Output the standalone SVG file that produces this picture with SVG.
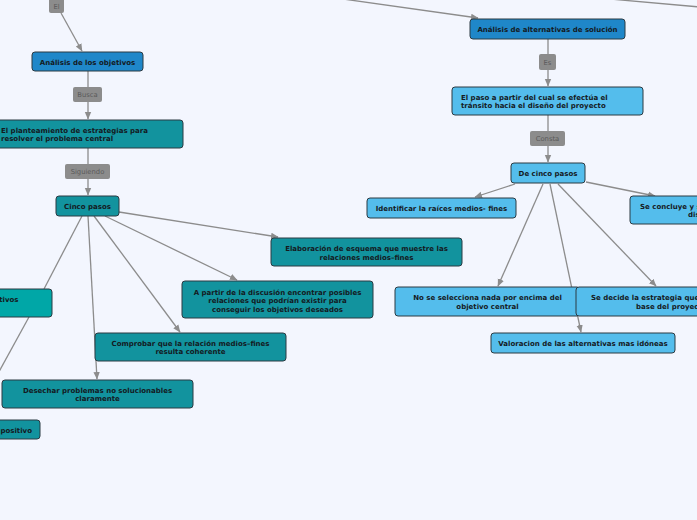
<svg xmlns="http://www.w3.org/2000/svg" width="697" height="520" viewBox="0 0 697 520">
<defs>
<marker id="ah" markerUnits="userSpaceOnUse" markerWidth="8" markerHeight="8" viewBox="0 0 8 8" refX="7" refY="4" orient="auto">
<path d="M0,0.8 L7.5,4 L0,7.2 Z" fill="#8c8c8c"/>
</marker>
<style>
.bg{fill:#f3f6fe}
.c{stroke:#8c8c8c;stroke-width:1.3;fill:none}
.a{marker-end:url(#ah)}
.n rect{stroke:#2b3a42;stroke-width:1}
.blue{fill:#1f87c9}
.teal{fill:#12939e}
.brt{fill:#00a7a7}
.lb{fill:#54bdec}
.lab rect{fill:#8c8c8c;stroke:none}
.lab text{font-family:"DejaVu Sans",Verdana,sans-serif;font-size:6.8px;fill:#5a5a5a;text-anchor:middle}
.n text{font-family:"DejaVu Sans",Verdana,sans-serif;font-size:7px;font-weight:bold;fill:#141a1e;text-anchor:middle}
.n text.s{text-anchor:start}
.n text.e{text-anchor:end}
</style>
</defs>
<rect class="bg" x="0" y="0" width="697" height="520"/>
<g id="connectors">
<line class="c a" x1="61" y1="13" x2="82" y2="51"/>
<line class="c" x1="88" y1="71" x2="88" y2="87"/>
<line class="c a" x1="88" y1="102" x2="88" y2="119"/>
<line class="c" x1="88" y1="148" x2="88" y2="164"/>
<line class="c a" x1="88" y1="179" x2="88" y2="195"/>
<line class="c a" x1="119" y1="212" x2="278" y2="237"/>
<line class="c a" x1="105" y1="216" x2="237" y2="280"/>
<line class="c a" x1="94" y1="216" x2="180" y2="332"/>
<line class="c a" x1="88" y1="216" x2="97" y2="379"/>
<line class="c" x1="82" y1="216" x2="44" y2="289"/>
<line class="c" x1="29" y1="317" x2="-5" y2="379"/>
<line class="c a" x1="343" y1="-1" x2="478" y2="18"/>
<line class="c" x1="610" y1="-1" x2="700" y2="7"/>
<line class="c" x1="548" y1="39" x2="548" y2="54"/>
<line class="c a" x1="548" y1="70" x2="548" y2="86"/>
<line class="c" x1="548" y1="115" x2="548" y2="131"/>
<line class="c a" x1="548" y1="146" x2="548" y2="162"/>
<line class="c a" x1="515" y1="184" x2="475" y2="197"/>
<line class="c a" x1="586" y1="182" x2="655" y2="196"/>
<line class="c a" x1="543" y1="184" x2="498" y2="286"/>
<line class="c a" x1="550" y1="184" x2="581" y2="332"/>
<line class="c a" x1="558" y1="184" x2="656" y2="286"/>
</g>
<g id="lbl-el" class="lab"><rect x="49" y="-3" width="15" height="16" rx="2"/><text x="56.5" y="8.5">El</text></g>
<g id="lbl-busca" class="lab"><rect x="73" y="87" width="29" height="15" rx="2"/><text x="87.5" y="97">Busca</text></g>
<g id="lbl-siguiendo" class="lab"><rect x="65" y="164" width="45" height="15" rx="2"/><text x="87.5" y="174">Siguiendo</text></g>
<g id="lbl-es" class="lab"><rect x="539" y="54" width="17" height="16" rx="2"/><text x="547.5" y="64.7">Es</text></g>
<g id="lbl-consta" class="lab"><rect x="530" y="131" width="35" height="15" rx="2"/><text x="547.5" y="141">Consta</text></g>

<g id="n-analisis-obj" class="n"><rect class="blue" x="32" y="52" width="111" height="19" rx="3"/><text x="87.5" y="64.5">Análisis de los objetivos</text></g>
<g id="n-planteamiento" class="n"><rect class="teal" x="-7" y="120" width="190" height="28" rx="3"/><text class="s" x="1" y="133">El planteamiento de estrategias para</text><text class="s" x="1" y="141">resolver el problema central</text></g>
<g id="n-cinco" class="n"><rect class="teal" x="56" y="196" width="63" height="20" rx="3"/><text x="87.5" y="208.8">Cinco pasos</text></g>
<g id="n-elaboracion" class="n"><rect class="teal" x="271" y="238" width="191" height="28" rx="3"/><text x="366.5" y="250.5">Elaboración de esquema que muestre las</text><text x="366.5" y="259.5">relaciones medios–fines</text></g>
<g id="n-apartir" class="n"><rect class="teal" x="182" y="281" width="191" height="37" rx="3"/><text x="277.5" y="294.5">A partir de la discusión encontrar posibles</text><text x="277.5" y="303">relaciones que podrían existir para</text><text x="277.5" y="311.5">conseguir los objetivos deseados</text></g>
<g id="n-comprobar" class="n"><rect class="teal" x="95" y="333" width="191" height="28" rx="3"/><text x="190.5" y="346">Comprobar que la relación medios–fines</text><text x="190.5" y="354">resulta coherente</text></g>
<g id="n-desechar" class="n"><rect class="teal" x="2" y="380" width="191" height="28" rx="3"/><text x="97.5" y="393">Desechar problemas no solucionables</text><text x="97.5" y="401">claramente</text></g>
<g id="n-tivos" class="n"><rect class="brt" x="-60" y="289" width="112" height="28" rx="3"/><text class="e" x="18.5" y="302">tivos</text></g>
<g id="n-positivo" class="n"><rect class="teal" x="-60" y="420" width="100" height="19" rx="3"/><text class="e" x="32" y="433">positivo</text></g>

<g id="n-analisis-alt" class="n"><rect class="blue" x="470" y="19" width="155" height="20" rx="3"/><text x="547.5" y="31.5">Análisis de alternativas de solución</text></g>
<g id="n-elpaso" class="n"><rect class="lb" x="452" y="87" width="191" height="28" rx="3"/><text class="s" x="461" y="100">El paso a partir del cual se efectúa el</text><text class="s" x="461" y="108">tránsito hacia el diseño del proyecto</text></g>
<g id="n-decinco" class="n"><rect class="lb" x="511" y="163" width="74" height="20" rx="3"/><text x="548" y="175.8">De cinco pasos</text></g>
<g id="n-identificar" class="n"><rect class="lb" x="367" y="198" width="149" height="20" rx="3"/><text x="441.5" y="210.8">Identificar la raíces medios- fines</text></g>
<g id="n-concluye" class="n"><rect class="lb" x="630" y="196" width="100" height="28" rx="3"/><text class="s" x="640" y="208.8">Se concluye y s</text><text class="s" x="688" y="216.8">dis</text></g>
<g id="n-noselecciona" class="n"><rect class="lb" x="395" y="287" width="185" height="29" rx="3"/><text x="487.5" y="300">No se selecciona nada por encima del</text><text x="487.5" y="309">objetivo central</text></g>
<g id="n-decide" class="n"><rect class="lb" x="576" y="287" width="140" height="29" rx="3"/><text class="s" x="591" y="300">Se decide la estrategia que</text><text class="s" x="636" y="309">base del proyec</text></g>
<g id="n-valoracion" class="n"><rect class="lb" x="491" y="333" width="184" height="20" rx="3"/><text x="583" y="345.8">Valoracion de las alternativas mas idóneas</text></g>
</svg>
